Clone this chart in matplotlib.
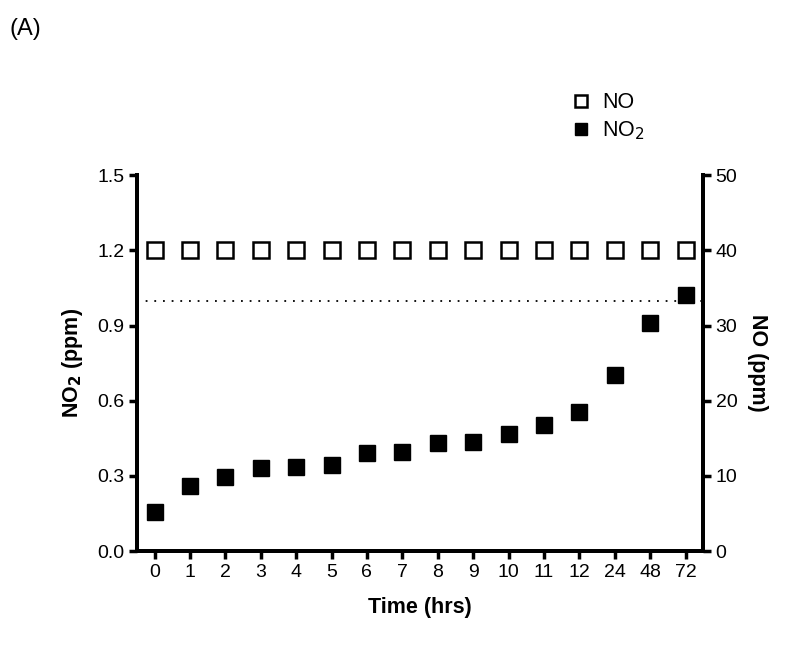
import matplotlib.pyplot as plt
import numpy as np

plt.rcParams['font.family'] = ['Liberation Sans', 'DejaVu Sans']

# data
time_labels = ['0', '1', '2', '3', '4', '5', '6', '7', '8', '9', '10', '11', '12', '24', '48', '72']
no2_ppm = [0.156, 0.259, 0.295, 0.330, 0.334, 0.343, 0.390, 0.395, 0.430, 0.436,
           0.468, 0.503, 0.555, 0.701, 0.911, 1.024]
no_ppm = [40] * 16
no2_limit = 1.0

x = np.arange(len(time_labels))

fig = plt.figure(figsize=(8, 6.64), dpi=100)
ax = fig.add_axes([0.171, 0.170, 0.708, 0.566])
ax2 = ax.twinx()

ax.plot(x, no2_ppm, 's', color='black', markersize=11, label='NO$_2$', zorder=3)
ax2.plot(x, no_ppm, 's', markerfacecolor='white', markeredgecolor='black',
         markeredgewidth=1.8, markersize=11, label='NO', zorder=3)
ax.axhline(no2_limit, color='black', linestyle=(0, (1, 3.8)), linewidth=1.3)

ax.set_xlim(-0.5, 15.5)
ax.set_ylim(0, 1.5)
ax2.set_ylim(0, 50)
ax.set_yticks([0.0, 0.3, 0.6, 0.9, 1.2, 1.5])
ax.set_yticklabels(['0.0', '0.3', '0.6', '0.9', '1.2', '1.5'])
ax2.set_yticks([0, 10, 20, 30, 40, 50])
ax.set_xticks(x)
ax.set_xticklabels(time_labels)

for a in (ax, ax2):
    a.spines['top'].set_visible(False)
    for s in ('left', 'right', 'bottom'):
        a.spines[s].set_linewidth(2.8)
    a.tick_params(width=2.5, length=6, labelsize=14, direction='out', pad=3)

ax.set_xlabel('Time (hrs)', fontsize=15.5, fontweight='bold', labelpad=12)
ax.set_ylabel('NO$_\\mathbf{2}$ (ppm)', fontsize=15.5, fontweight='bold', labelpad=9)
ax2.set_ylabel('NO (ppm)', fontsize=15.5, fontweight='bold', rotation=270, labelpad=22)

h1, l1 = ax2.get_legend_handles_labels()
h2, l2 = ax.get_legend_handles_labels()
fig.legend(h1 + h2, l1 + l2, loc='upper left', bbox_to_anchor=(0.688, 0.89),
           frameon=False, fontsize=15.5, handletextpad=0.5, labelspacing=0.3,
           handlelength=1.0, markerscale=0.85)

fig.text(0.012, 0.948, '(A)', fontsize=17)

fig.savefig('out.png', dpi=100)
